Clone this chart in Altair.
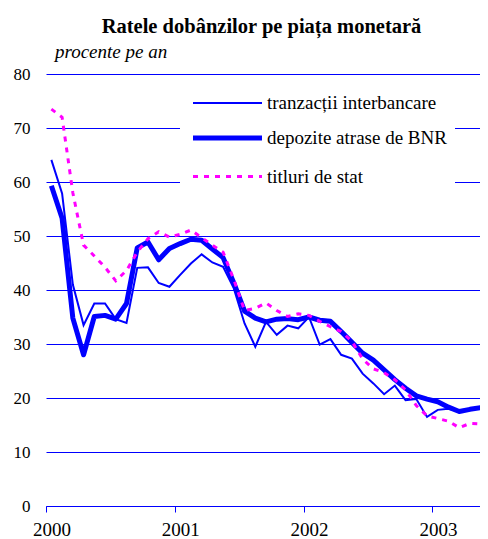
import altair as alt
import pandas as pd

# Monthly data, Jan 2000 .. Jun 2003 (42 months)
month_index = list(range(42))

tranzactii = [64.1, 57.9, 41.0, 33.5, 37.5, 37.5, 34.6, 33.9, 44.1, 44.2, 41.3, 40.6,
              42.8, 44.9, 46.6, 45.1, 44.3, 40.3, 33.8, 29.5, 34.1, 31.7, 33.4, 32.9,
              35.0, 29.9, 30.9, 28.0, 27.3, 24.5, 22.7, 20.7, 22.3, 19.6, 19.8, 16.5,
              17.8, 18.0, 17.5, 17.8, 18.1, 18.3]

depozite = [59.3, 53.3, 34.8, 28.0, 35.1, 35.3, 34.6, 37.5, 47.8, 48.9, 45.6, 47.7,
            48.6, 49.4, 49.2, 47.6, 46.0, 41.3, 36.1, 34.8, 34.1, 34.6, 34.7, 34.5,
            35.0, 34.4, 34.2, 32.3, 30.3, 28.3, 27.0, 25.2, 23.4, 21.8, 20.4, 19.8,
            19.3, 18.3, 17.5, 17.9, 18.2, 18.3]

titluri = [73.5, 72.0, 58.0, 48.3, 46.3, 44.2, 41.7, 43.6, 47.0, 49.5, 50.8, 49.8,
           50.3, 51.1, 49.7, 48.3, 47.0, 41.9, 36.2, 36.6, 37.6, 36.2, 35.1, 35.6,
           35.3, 34.2, 33.2, 32.3, 30.5, 27.2, 25.4, 24.7, 23.4, 21.5, 18.6, 16.7,
           16.2, 15.7, 14.5, 15.3, 15.2, 18.0]

series_names = ["tranzacții interbancare", "depozite atrase de BNR", "titluri de stat"]
year_ticks = [2000, 2001, 2002, 2003]
y_ticks = [0, 10, 20, 30, 40, 50, 60, 70, 80]
title_text = "Ratele dobânzilor pe piața monetară"
unit_text = "procente pe an"

FONT = "Liberation Serif"
BLUE = "#0000ff"
MAGENTA = "#ff00ff"


def frame(vals):
    # points sit in the middle of each month (category-style axis)
    return pd.DataFrame({"t": [2000 + (m + 0.5) / 12 for m in month_index], "v": vals})


x_enc = alt.X(
    "t:Q",
    scale=alt.Scale(domain=[2000, 2003.3696], nice=False, zero=False),
    axis=alt.Axis(values=year_ticks, format="d", title=None, grid=False,
                  labelFlush=False, labelOverlap=False, labelOffset=5.5,
                  tickSize=6, tickColor=BLUE, tickWidth=1,
                  domainColor=BLUE, domainWidth=1,
                  labelFont=FONT, labelFontSize=19, labelColor="black",
                  labelPadding=8),
)
y_enc = alt.Y(
    "v:Q",
    scale=alt.Scale(domain=[0, 80], nice=False),
    axis=alt.Axis(values=y_ticks, title=None, grid=True, gridColor=BLUE,
                  gridWidth=1, domain=False, ticks=False,
                  labelFont=FONT, labelFontSize=17, labelColor="black",
                  labelPadding=16),
)

thin = alt.Chart(frame(tranzactii)).mark_line(
    color=BLUE, strokeWidth=2, clip=True
).encode(x=x_enc, y=y_enc)

thick = alt.Chart(frame(depozite)).mark_line(
    color=BLUE, strokeWidth=5, clip=True, strokeJoin="round"
).encode(x=x_enc, y=y_enc)

dotted = alt.Chart(frame(titluri)).mark_line(
    color=MAGENTA, strokeWidth=3, strokeDash=[5, 6], clip=True
).encode(x=x_enc, y=y_enc)

one = pd.DataFrame({"a": [0]})

legend_box = alt.Chart(one).mark_rect(fill="white").encode(
    x=alt.value(134), x2=alt.value(409), y=alt.value(11), y2=alt.value(121)
)

leg_rows = [29, 64, 102.5]
leg_styles = [
    dict(color=BLUE, strokeWidth=2),
    dict(color=BLUE, strokeWidth=5),
    dict(color=MAGENTA, strokeWidth=3, strokeDash=[5, 6]),
]
legend_layers = []
for name, yy, st in zip(series_names, leg_rows, leg_styles):
    legend_layers.append(
        alt.Chart(one).mark_rule(**st).encode(
            x=alt.value(147), x2=alt.value(216), y=alt.value(yy)
        )
    )
    legend_layers.append(
        alt.Chart(one).mark_text(
            align="left", baseline="middle", font=FONT, fontSize=19, color="black"
        ).encode(x=alt.value(221), y=alt.value(yy), text=alt.value(name))
    )

title_mark = alt.Chart(one).mark_text(
    align="center", baseline="alphabetic", font=FONT, fontSize=20.5,
    fontWeight="bold", color="black"
).encode(x=alt.value(215.5), y=alt.value(-41), text=alt.value(title_text))

unit_mark = alt.Chart(one).mark_text(
    align="left", baseline="alphabetic", font=FONT, fontSize=19,
    fontStyle="italic", color="black"
).encode(x=alt.value(9), y=alt.value(-16.5), text=alt.value(unit_text))

chart = alt.layer(
    thin, thick, dotted, legend_box, *legend_layers, title_mark, unit_mark
).properties(
    width=434,
    height=432,
    autosize=alt.AutoSizeParams(type="none"),
    padding={"left": 38, "top": 66, "right": 0, "bottom": 33},
    background="white",
).configure_view(
    stroke=None
).configure_axis(
    labelFont=FONT
).configure_text(
    font=FONT
)

chart.save("out.html", embed_options={"renderer": "svg", "actions": False})
